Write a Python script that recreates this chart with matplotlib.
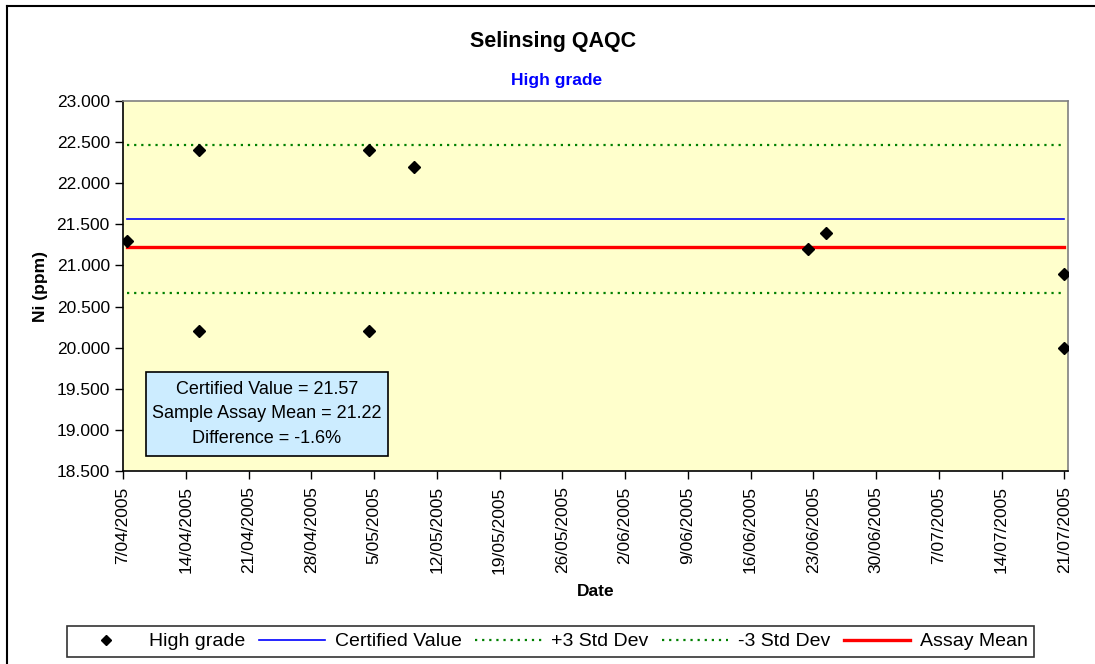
import numpy as np
import pandas as pd
import matplotlib
matplotlib.use('Agg')
import matplotlib.pyplot as plt
from matplotlib.lines import Line2D
from matplotlib.patches import Rectangle

plt.rcParams['font.family'] = ['Liberation Sans', 'DejaVu Sans']

# data
sample_dates = ['2005-04-07 11:00', '2005-04-15 11:00', '2005-04-15 11:00',
                '2005-05-04 11:00', '2005-05-04 11:00', '2005-05-09 11:00',
                '2005-06-22 11:00', '2005-06-24 11:00', '2005-07-21 00:00',
                '2005-07-21 00:00']
ni_values = [21.3, 22.4, 20.2, 22.4, 20.2, 22.2, 21.2, 21.4, 20.9, 20.0]
certified_value = 21.57
std_dev = 0.3
assay_mean = 21.22
difference_pct = -1.6
tick_dates = pd.date_range('2005-04-07', '2005-07-21', freq='7D')
y_ticks = [18.5, 19.0, 19.5, 20.0, 20.5, 21.0, 21.5, 22.0, 22.5, 23.0]

dates = pd.to_datetime(sample_dates)
span = [dates.min(), dates.max()]

fig = plt.figure(figsize=(10.95, 6.64), dpi=100)
ax = fig.add_axes([123 / 1095, 1 - 471 / 664, (1068 - 123) / 1095, (471 - 101) / 664])
ax.set_facecolor('#FFFFCC')

ax.plot(dates, ni_values, linestyle='none', marker='D', markersize=6.5,
        color='black', label='High grade', zorder=5)
ax.plot(span, [certified_value] * 2, color='#0000FF', lw=1.2, label='Certified Value')
ax.plot(span, [certified_value + 3 * std_dev] * 2, color='#008000', lw=1.6,
        linestyle=(0, (1, 2.2)), label='+3 Std Dev')
ax.plot(span, [certified_value - 3 * std_dev] * 2, color='#008000', lw=1.6,
        linestyle=(0, (1, 2.2)), label='-3 Std Dev')
ax.plot(span, [assay_mean] * 2, color='#FF0000', lw=2.4, label='Assay Mean')

ax.set_ylim(18.5, 23.0)
ax.set_yticks(y_ticks)
ax.set_yticklabels([f'{v:.3f}' for v in y_ticks])
ax.set_xlim(pd.Timestamp('2005-04-07'), pd.Timestamp('2005-07-21 10:00'))
ax.set_xticks(tick_dates)
ax.set_xticklabels([f'{d.day}/{d:%m/%Y}' for d in tick_dates], rotation=90)
ax.tick_params(axis='both', direction='out', length=6, width=1, labelsize=12.5,
               colors='black')
ax.tick_params(axis='x', pad=5)

for side in ['left', 'bottom']:
    ax.spines[side].set_color('black')
    ax.spines[side].set_linewidth(1.2)
for side in ['top', 'right']:
    ax.spines[side].set_color('#808080')
    ax.spines[side].set_linewidth(1.2)

ax.set_ylabel('Ni (ppm)', fontsize=12.5, fontweight='bold', labelpad=6)
fig.text(595.5 / 1095, 1 - 591 / 664, 'Date', ha='center', va='center',
         fontsize=12.5, fontweight='bold')

fig.text(553 / 1095, 1 - 42 / 664, 'Selinsing QAQC', ha='center', va='center',
         fontsize=15.5, fontweight='bold')
fig.text(557 / 1095, 1 - 81 / 664, 'High grade', ha='center', va='center',
         fontsize=12.5, fontweight='bold', color='#0000FF')

# stats box
fig.patches.append(Rectangle((146 / 1095, 1 - 456 / 664), (388 - 146) / 1095,
                             (456 - 372) / 664, transform=fig.transFigure,
                             facecolor='#CCECFF', edgecolor='black', lw=1.2,
                             zorder=10))
box_text = (f'Certified Value = {certified_value:.2f}\n'
            f'Sample Assay Mean = {assay_mean:.2f}\n'
            f'Difference = {difference_pct:.1f}%')
fig.text(267 / 1095, 1 - 414 / 664, box_text, ha='center', va='center',
         fontsize=13, linespacing=1.55, zorder=11)

leg = fig.legend(loc='center', bbox_to_anchor=(550.5 / 1095, 1 - 641.5 / 664),
                 ncol=5, fontsize=14, frameon=True, fancybox=False,
                 edgecolor='black', handlelength=3.4, columnspacing=0.7,
                 handletextpad=0.5, borderpad=0.35, markerscale=0.75)
leg.get_frame().set_linewidth(1.2)

# outer chart border
fig.add_artist(Line2D([7 / 1095, 7 / 1095], [0, 1 - 6 / 664], color='black',
                      lw=1.5, transform=fig.transFigure))
fig.add_artist(Line2D([7 / 1095, 1], [1 - 6 / 664, 1 - 6 / 664], color='black',
                      lw=1.5, transform=fig.transFigure))

fig.savefig('out.png', dpi=100)
